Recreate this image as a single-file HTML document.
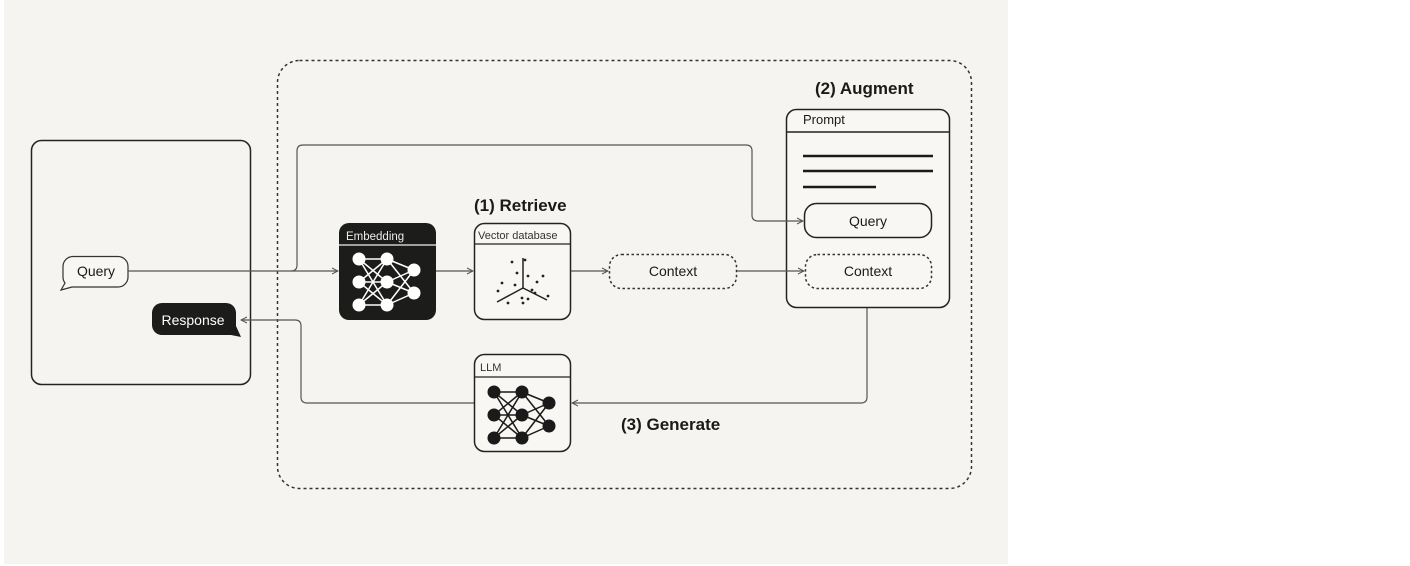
<!DOCTYPE html>
<html><head><meta charset="utf-8"><style>
html,body{margin:0;padding:0;background:#fff;width:1410px;height:566px;overflow:hidden}
svg{display:block}
text{font-family:"Liberation Sans",sans-serif;fill:#1a1a1a}
</style></head><body>
<svg width="1410" height="566" viewBox="0 0 1410 566" xmlns="http://www.w3.org/2000/svg">
<defs>
<marker id="a" markerWidth="8" markerHeight="8" refX="7" refY="4" orient="auto" markerUnits="userSpaceOnUse">
<path d="M1,1 L7,4 L1,7" fill="none" stroke="#555" stroke-width="1"/></marker>
<g id="net">
<g stroke-width="1.5">
<line x1="20" y1="36" x2="48" y2="36"/><line x1="20" y1="36" x2="48" y2="59"/><line x1="20" y1="36" x2="48" y2="82"/>
<line x1="20" y1="59" x2="48" y2="36"/><line x1="20" y1="59" x2="48" y2="59"/><line x1="20" y1="59" x2="48" y2="82"/>
<line x1="20" y1="82" x2="48" y2="36"/><line x1="20" y1="82" x2="48" y2="59"/><line x1="20" y1="82" x2="48" y2="82"/>
<line x1="48" y1="36" x2="75" y2="47"/><line x1="48" y1="36" x2="75" y2="70"/>
<line x1="48" y1="59" x2="75" y2="47"/><line x1="48" y1="59" x2="75" y2="70"/>
<line x1="48" y1="82" x2="75" y2="47"/><line x1="48" y1="82" x2="75" y2="70"/>
</g>
<circle cx="20" cy="36" r="6"/><circle cx="20" cy="59" r="6"/><circle cx="20" cy="82" r="6"/>
<circle cx="48" cy="36" r="6"/><circle cx="48" cy="59" r="6"/><circle cx="48" cy="82" r="6"/>
<circle cx="75" cy="47" r="6"/><circle cx="75" cy="70" r="6"/>
</g>
</defs>
<rect x="4" y="0" width="1004" height="564" fill="#f5f4f0"/>
<rect x="277.5" y="60.5" width="694" height="428" rx="22" fill="none" stroke="#333" stroke-width="1.5" stroke-dasharray="3,3"/>
<rect x="31.5" y="140.5" width="219" height="244" rx="10" fill="none" stroke="#222" stroke-width="1.5"/>
<path d="M73,256.5 H118 A10,10 0 0 1 128,266.5 V277 A10,10 0 0 1 118,287 H72 L61,290 L65,283 A10,10 0 0 1 63,277 V266.5 A10,10 0 0 1 73,256.5 Z" fill="#f8f7f3" stroke="#333" stroke-width="1.2"/>
<text x="96" y="276" font-size="14" text-anchor="middle">Query</text>
<path d="M162,303 H226 A10,10 0 0 1 236,313 V326 L241,337 L231,335 H162 A10,10 0 0 1 152,325 V313 A10,10 0 0 1 162,303 Z" fill="#1c1c1a"/>
<text x="193" y="325" font-size="14" text-anchor="middle" style="fill:#fff">Response</text>
<g fill="none" stroke="#555" stroke-width="1.2">
<path d="M128,271 H338" marker-end="url(#a)"/>
<path d="M436,271 H473" marker-end="url(#a)"/>
<path d="M571,271 H608" marker-end="url(#a)"/>
<path d="M867,308 V397 Q867,403 861,403 H572" marker-end="url(#a)"/>
<path d="M474,403 H307 Q301,403 301,397 V326 Q301,320 295,320 H241" marker-end="url(#a)"/>
</g>
<rect x="339" y="223" width="97" height="97" rx="10" fill="#1c1c1a"/>
<line x1="339" y1="245" x2="436" y2="245" stroke="#eee" stroke-width="1.2"/>
<text x="346" y="240" font-size="11.5" style="fill:#eee">Embedding</text>
<use href="#net" x="339" y="223" fill="#fff" stroke="#fff"/>
<rect x="474.5" y="223.5" width="96" height="96" rx="10" fill="#f8f7f3" stroke="#222" stroke-width="1.5"/>
<line x1="474" y1="244" x2="571" y2="244" stroke="#222" stroke-width="1.2"/>
<text x="478" y="239" font-size="11" style="fill:#333">Vector database</text>
<g stroke="#222" stroke-width="1.5"><line x1="523" y1="288" x2="523" y2="258"/><line x1="523" y1="288" x2="497" y2="302"/><line x1="523" y1="288" x2="547" y2="300"/></g>
<g fill="#222"><circle cx="512" cy="262" r="1.4"/><circle cx="525" cy="260" r="1.4"/><circle cx="517" cy="273" r="1.4"/><circle cx="528" cy="276" r="1.4"/><circle cx="543" cy="276" r="1.4"/><circle cx="502" cy="283" r="1.4"/><circle cx="515" cy="285" r="1.4"/><circle cx="537" cy="282" r="1.4"/><circle cx="532" cy="290" r="1.4"/><circle cx="498" cy="291" r="1.4"/><circle cx="535" cy="293" r="1.4"/><circle cx="522" cy="298" r="1.4"/><circle cx="528" cy="299" r="1.4"/><circle cx="548" cy="296" r="1.4"/><circle cx="508" cy="303" r="1.4"/><circle cx="523" cy="303" r="1.4"/></g>
<rect x="609.5" y="254.5" width="127" height="34" rx="12" fill="none" stroke="#333" stroke-width="1.5" stroke-dasharray="2.5,2.5"/>
<text x="673" y="276" font-size="14" text-anchor="middle">Context</text>
<rect x="786.5" y="109.5" width="163" height="198" rx="10" fill="#f8f7f3" stroke="#222" stroke-width="1.5"/>
<line x1="786" y1="132" x2="950" y2="132" stroke="#222" stroke-width="1.5"/>
<text x="803" y="124" font-size="13">Prompt</text>
<g stroke="#1a1a1a" stroke-width="2.5"><line x1="803" y1="156" x2="933" y2="156"/><line x1="803" y1="171" x2="933" y2="171"/><line x1="803" y1="187" x2="876" y2="187"/></g>
<rect x="804.5" y="203.5" width="127" height="34" rx="12" fill="none" stroke="#222" stroke-width="1.5"/>
<text x="868" y="226" font-size="14" text-anchor="middle">Query</text>
<rect x="805.5" y="254.5" width="126" height="34" rx="12" fill="none" stroke="#333" stroke-width="1.5" stroke-dasharray="2.5,2.5"/>
<text x="868" y="276" font-size="14" text-anchor="middle">Context</text>
<g fill="none" stroke="#555" stroke-width="1.2">
<path d="M291,271 Q297,271 297,265 V151 Q297,145 303,145 H746 Q752,145 752,151 V215 Q752,221 758,221 H803" marker-end="url(#a)"/>
<path d="M737,271 H804" marker-end="url(#a)"/>
</g>
<rect x="474.5" y="354.5" width="96" height="97" rx="10" fill="#f8f7f3" stroke="#222" stroke-width="1.5"/>
<line x1="474" y1="377" x2="571" y2="377" stroke="#222" stroke-width="1.2"/>
<text x="480" y="371" font-size="11" style="fill:#333">LLM</text>
<use href="#net" x="474" y="356" fill="#1a1a1a" stroke="#1a1a1a"/>
<text x="474" y="211" font-size="17" font-weight="bold">(1) Retrieve</text>
<text x="815" y="94" font-size="17" font-weight="bold">(2) Augment</text>
<text x="621" y="430" font-size="17" font-weight="bold">(3) Generate</text>
</svg>
</body></html>
